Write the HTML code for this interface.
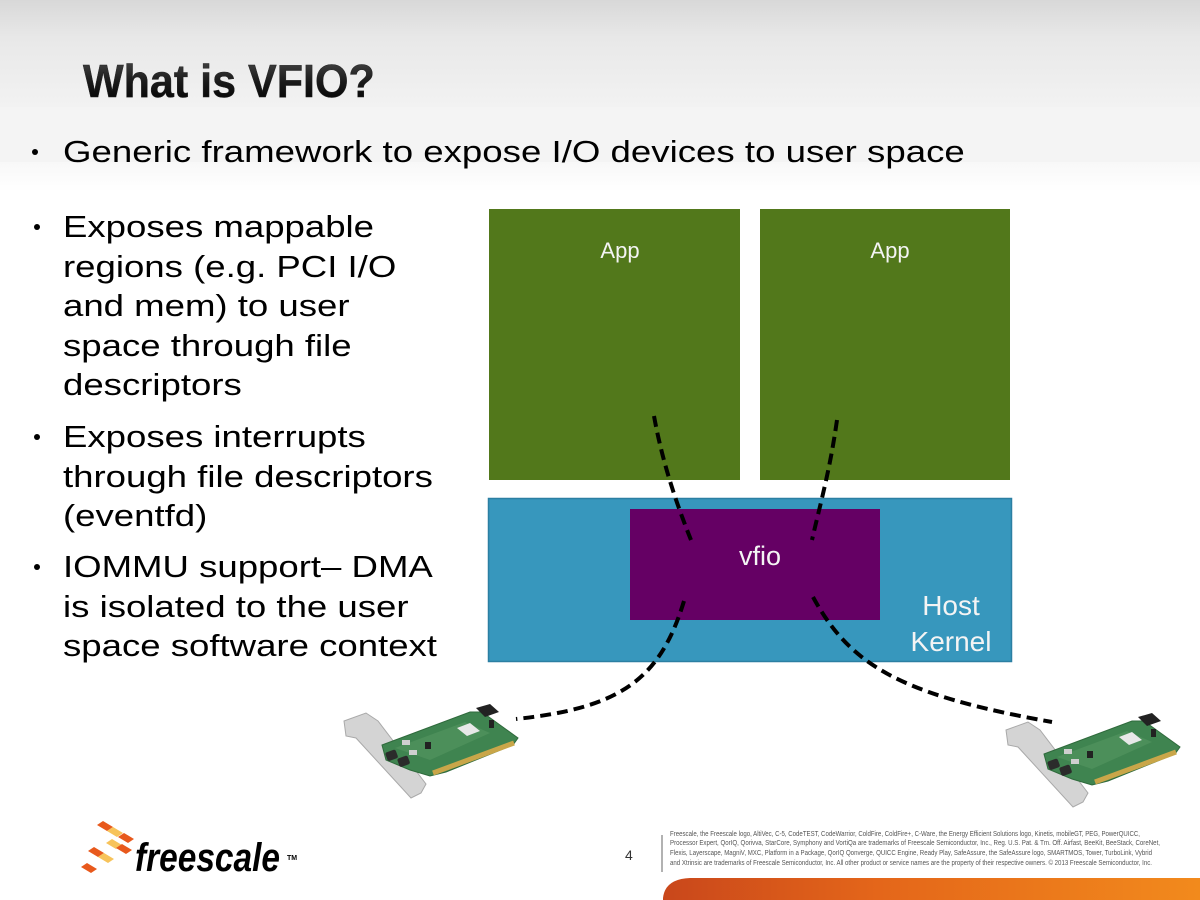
<!DOCTYPE html>
<html>
<head>
<meta charset="utf-8">
<style>
  html,body{margin:0;padding:0;background:#fff;}
  body{width:1200px;height:900px;overflow:hidden;}
  svg{display:block;}
  .t{font-family:"Liberation Sans",Arial,sans-serif;}
</style>
</head>
<body>
<svg width="1200" height="900" viewBox="0 0 1200 900" xmlns="http://www.w3.org/2000/svg">
  <defs>
    <linearGradient id="topg" x1="0" y1="0" x2="0" y2="1">
      <stop offset="0" stop-color="#d8d8d8"/>
      <stop offset="0.35" stop-color="#e8e8e8"/>
      <stop offset="1" stop-color="#f2f2f2"/>
    </linearGradient>
    <linearGradient id="band2" x1="0" y1="0" x2="0" y2="1">
      <stop offset="0" stop-color="#f8f8f8"/>
      <stop offset="1" stop-color="#ffffff"/>
    </linearGradient>
    <linearGradient id="titleg" x1="0" y1="0" x2="0" y2="1">
      <stop offset="0" stop-color="#4a4a4a"/>
      <stop offset="0.5" stop-color="#1a1a1a"/>
      <stop offset="1" stop-color="#000000"/>
    </linearGradient>
    <linearGradient id="orange" x1="0" y1="0" x2="1" y2="0">
      <stop offset="0" stop-color="#c9471b"/>
      <stop offset="0.4" stop-color="#e4661a"/>
      <stop offset="1" stop-color="#f28a1c"/>
    </linearGradient>
    <g id="card">
      <polygon points="344,721 366,713 378,721 426,784 421,793 411,798 356,738 346,736" fill="#d4d4d4" stroke="#a9a9a9" stroke-width="1"/>
      <polygon points="382,745 470,712 482,712 500,725 518,738 513,745 446,772 430,776 410,770 386,760" fill="#3f8450" stroke="#2f6a3c" stroke-width="1"/>
      <polygon points="395,748 465,722 490,733 430,760" fill="#5a9a64" opacity="0.5"/>
      <line x1="433" y1="773" x2="514" y2="743" stroke="#c9a649" stroke-width="5"/>
      <polygon points="457,728 470,723 480,731 467,736" fill="#e8e8e8"/>
      <polygon points="476,708 490,704 499,712 485,717" fill="#222"/>
      <rect x="489" y="720" width="5" height="8" fill="#222"/>
      <rect x="425" y="742" width="6" height="7" fill="#222"/>
      <rect x="386" y="751" width="11" height="9" rx="2" fill="#2b2b2b" transform="rotate(-20 391 755)"/>
      <rect x="398" y="757" width="11" height="9" rx="2" fill="#2b2b2b" transform="rotate(-20 403 761)"/>
      <rect x="402" y="740" width="8" height="5" fill="#cfcfcf"/>
      <rect x="409" y="750" width="8" height="5" fill="#cfcfcf"/>
    </g>
    <polygon id="tile" points="-8,-1 -2,-5 8,1 2,5"/>
  </defs>

  <rect x="0" y="0" width="1200" height="900" fill="#ffffff"/>
  <rect x="0" y="0" width="1200" height="107" fill="url(#topg)"/>
  <rect x="0" y="107" width="1200" height="55" fill="#f4f4f4"/>
  <rect x="0" y="162" width="1200" height="30" fill="url(#band2)"/>

  <g transform="translate(83 0) scale(0.936 1)">
    <text x="0" y="97" class="t" font-size="46" font-weight="bold" fill="url(#titleg)" stroke="#222" stroke-width="0.5">What is VFIO?</text>
  </g>

  <circle cx="35" cy="152" r="3" fill="#000"/>
  <g transform="translate(63 0) scale(1.182 1)">
    <text x="0" y="162" class="t" font-size="31" fill="#000">Generic framework to expose I/O devices to user space</text>
  </g>

  <circle cx="37" cy="227" r="3" fill="#000"/>
  <circle cx="37" cy="437" r="3" fill="#000"/>
  <circle cx="37" cy="567" r="3" fill="#000"/>
  <g transform="translate(63 0) scale(1.18 1)" class="t" font-size="31" fill="#000">
    <text x="0" y="237">Exposes mappable</text>
    <text x="0" y="277">regions (e.g. PCI I/O</text>
    <text x="0" y="316">and mem) to user</text>
    <text x="0" y="356">space through file</text>
    <text x="0" y="395">descriptors</text>
    <text x="0" y="447">Exposes interrupts</text>
    <text x="0" y="487">through file descriptors</text>
    <text x="0" y="526">(eventfd)</text>
    <text x="0" y="577">IOMMU support– DMA</text>
    <text x="0" y="617">is isolated to the user</text>
    <text x="0" y="656">space software context</text>
  </g>

  <rect x="489" y="209" width="251" height="271" fill="#52781b"/>
  <rect x="760" y="209" width="250" height="271" fill="#52781b"/>
  <rect x="488.5" y="498.5" width="523" height="163" fill="#3797bd" stroke="#2b7fa2" stroke-width="1.5"/>
  <rect x="630" y="509" width="250" height="111" fill="#650064"/>

  <text x="620" y="258" class="t" font-size="22" fill="#f4f4f4" text-anchor="middle">App</text>
  <text x="890" y="258" class="t" font-size="22" fill="#f4f4f4" text-anchor="middle">App</text>
  <text x="760" y="565" class="t" font-size="27" fill="#f4f4f4" text-anchor="middle">vfio</text>
  <text x="951" y="615" class="t" font-size="28" fill="#f4f4f4" text-anchor="middle">Host</text>
  <text x="951" y="651" class="t" font-size="28" fill="#f4f4f4" text-anchor="middle">Kernel</text>

  <g fill="none" stroke="#000" stroke-width="4" stroke-dasharray="11 6">
    <path d="M654,416 C662,460 675,500 691,540"/>
    <path d="M837,420 C830,470 820,505 812,540"/>
    <path d="M684,601 C660,680 620,708 516,719"/>
    <path d="M813,597 C850,665 900,695 1052,722"/>
  </g>

  <use href="#card"/>
  <g transform="translate(662 9)"><use href="#card"/></g>

  <g>
    <use href="#tile" x="105" y="826" fill="#e8591c"/>
    <use href="#tile" x="115" y="832" fill="#f7c35a"/>
    <use href="#tile" x="126" y="838" fill="#e8591c"/>
    <use href="#tile" x="114" y="844" fill="#f7c35a"/>
    <use href="#tile" x="96" y="852" fill="#e8591c"/>
    <use href="#tile" x="124" y="849" fill="#e8591c"/>
    <use href="#tile" x="106" y="858" fill="#f7c35a"/>
    <use href="#tile" x="89" y="868" fill="#e8591c"/>
  </g>
  <text x="135" y="871" font-family="'Liberation Sans',Arial,sans-serif" font-size="40" font-weight="bold" font-style="italic" fill="#000" textLength="145" lengthAdjust="spacingAndGlyphs">freescale</text>
  <text x="287" y="860" class="t" font-size="7" font-weight="bold" fill="#000">TM</text>

  <text x="625" y="860" class="t" font-size="14" fill="#333">4</text>
  <line x1="662" y1="835" x2="662" y2="872" stroke="#999" stroke-width="1.5"/>
  <g class="t" font-size="7" fill="#555">
    <text x="670" y="836" textLength="470" lengthAdjust="spacingAndGlyphs">Freescale, the Freescale logo, AltiVec, C-5, CodeTEST, CodeWarrior, ColdFire, ColdFire+, C-Ware, the Energy Efficient Solutions logo, Kinetis, mobileGT, PEG, PowerQUICC,</text>
    <text x="670" y="845" textLength="490" lengthAdjust="spacingAndGlyphs">Processor Expert, QorIQ, Qorivva, StarCore, Symphony and VortiQa are trademarks of Freescale Semiconductor, Inc., Reg. U.S. Pat. &amp; Tm. Off. Airfast, BeeKit, BeeStack, CoreNet,</text>
    <text x="670" y="855" textLength="482" lengthAdjust="spacingAndGlyphs">Flexis, Layerscape, MagniV, MXC, Platform in a Package, QorIQ Qonverge, QUICC Engine, Ready Play, SafeAssure, the SafeAssure logo, SMARTMOS, Tower, TurboLink, Vybrid</text>
    <text x="670" y="865" textLength="482" lengthAdjust="spacingAndGlyphs">and Xtrinsic are trademarks of Freescale Semiconductor, Inc. All other product or service names are the property of their respective owners. © 2013 Freescale Semiconductor, Inc.</text>
  </g>
  <path d="M663,900 L663,898 Q665,879 690,878 L1200,878 L1200,900 Z" fill="url(#orange)"/>
</svg>
</body>
</html>
